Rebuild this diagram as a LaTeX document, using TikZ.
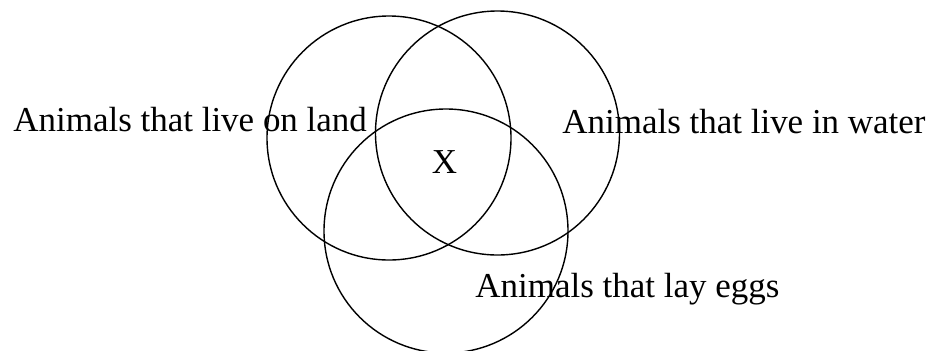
\documentclass[tikz,border=0pt]{standalone}
\usepackage{fontspec}
\setmainfont{Liberation Serif}
\usepackage{tikz}
\usetikzlibrary{positioning}

\begin{document}
\begin{tikzpicture}[
    set/.style={circle, draw, line width=0.8pt, inner sep=0pt, minimum size=4.88cm},
    setname/.style={inner sep=0pt, anchor=base west, font=\fontsize{19.9}{24}\selectfont},
    member/.style={inner sep=0pt, anchor=base, font=\fontsize{19.9}{24}\selectfont}
]
    \useasboundingbox (0,0) rectangle (18.62,7);
    \node[set] (landset) at (7.78, 4.24) {};
    \node[set] (waterset) at (9.95, 4.34) {};
    \node[set] (eggset) at (8.92, 2.38) {};
    \node[setname] (land) at (0.26, 4.38) {Animals that live on land};
    \node[setname] (water) at (11.24, 4.34) {Animals that live in water};
    \node[setname] (eggs) at (9.5, 1.06) {Animals that lay eggs};
    \node[member] (x) at (8.89, 3.54) {X};
\end{tikzpicture}
\end{document}
